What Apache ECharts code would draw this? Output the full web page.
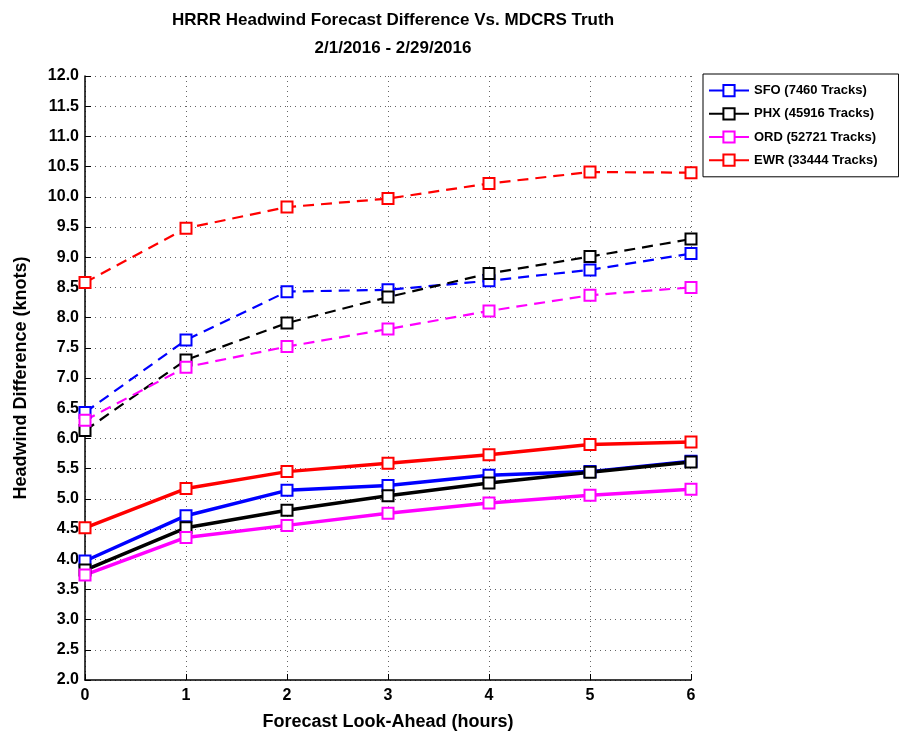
<!DOCTYPE html>
<html><head><meta charset="utf-8">
<script src="https://cdn.jsdelivr.net/npm/echarts@6/dist/echarts.min.js"></script>
<style>html,body{margin:0;padding:0;background:#fff;}#c{width:899px;height:740px;}</style>
</head><body><div id="c"></div>
<script>
const hours = [0, 1, 2, 3, 4, 5, 6];
const yTicks = [2.0, 12.0, 0.5];
const legendNames = ['SFO (7460 Tracks)', 'PHX (45916 Tracks)', 'ORD (52721 Tracks)', 'EWR (33444 Tracks)'];
const colors = ['#0000ff', '#000000', '#ff00ff', '#ff0000'];
// solid lines
const sfoSolid = [3.97, 4.72, 5.14, 5.22, 5.39, 5.45, 5.62];
const phxSolid = [3.82, 4.52, 4.81, 5.05, 5.26, 5.44, 5.61];
const ordSolid = [3.74, 4.36, 4.56, 4.76, 4.93, 5.06, 5.16];
const ewrSolid = [4.52, 5.17, 5.45, 5.59, 5.73, 5.90, 5.94];
// dashed lines
const sfoDash = [6.43, 7.63, 8.43, 8.46, 8.61, 8.79, 9.06];
const phxDash = [6.13, 7.30, 7.91, 8.34, 8.73, 9.01, 9.30];
const ordDash = [6.30, 7.18, 7.52, 7.81, 8.11, 8.37, 8.50];
const ewrDash = [8.58, 9.48, 9.83, 9.97, 10.22, 10.41, 10.40];

const solids = [sfoSolid, phxSolid, ordSolid, ewrSolid];
const dashes = [sfoDash, phxDash, ordDash, ewrDash];

const series = [];
dashes.forEach((d, i) => {
  series.push({
    name: legendNames[i] + ' dashed', type: 'line',
    data: hours.map((h, k) => [h, d[k]]),
    symbol: 'rect', symbolSize: 11, showSymbol: true,
    itemStyle: {color: '#fff', borderColor: colors[i], borderWidth: 2},
    lineStyle: {color: colors[i], width: 2.2, type: [11, 7]},
    z: 2, animation: false
  });
});
solids.forEach((d, i) => {
  series.push({
    name: legendNames[i], type: 'line',
    data: hours.map((h, k) => [h, d[k]]),
    symbol: 'rect', symbolSize: 11, showSymbol: true,
    itemStyle: {color: '#fff', borderColor: colors[i], borderWidth: 2},
    lineStyle: {color: colors[i], width: 3.5},
    z: 3, animation: false
  });
});

const font = 'Liberation Sans, Arial, sans-serif';
const chart = echarts.init(document.getElementById('c'), null, {renderer: 'canvas'});
chart.setOption({
  backgroundColor: '#fff',
  animation: false,
  title: {
    text: 'HRRR Headwind Forecast Difference Vs. MDCRS Truth',
    subtext: '2/1/2016 - 2/29/2016',
    left: 388, top: 7, textAlign: 'center',
    textStyle: {fontFamily: font, fontWeight: 'bold', fontSize: 17, color: '#000'},
    subtextStyle: {fontFamily: font, fontWeight: 'bold', fontSize: 17, color: '#000'},
    itemGap: 11
  },
  legend: {
    data: legendNames,
    orient: 'vertical', left: 703, top: 74,
    backgroundColor: '#fff', borderColor: '#000', borderWidth: 1,
    padding: [10, 21, 10, 5], itemGap: 10, itemWidth: 40, itemHeight: 14,
    textStyle: {fontFamily: font, fontWeight: 'bold', fontSize: 13, color: '#000'}
  },
  grid: {left: 85, right: 208, top: 76, bottom: 60, containLabel: false},
  xAxis: {
    type: 'value', min: hours[0], max: hours[hours.length - 1], interval: 1,
    name: 'Forecast Look-Ahead (hours)', nameLocation: 'middle', nameGap: 33,
    nameTextStyle: {fontFamily: font, fontWeight: 'bold', fontSize: 18, color: '#000'},
    axisLine: {lineStyle: {color: '#000', width: 1.5}},
    axisTick: {inside: true, length: 6, lineStyle: {color: '#000'}},
    axisLabel: {fontFamily: font, fontWeight: 'bold', fontSize: 16, color: '#000', margin: 8},
    splitLine: {show: true, lineStyle: {color: '#666', type: [1, 4], width: 1}}
  },
  yAxis: {
    type: 'value', min: yTicks[0], max: yTicks[1], interval: yTicks[2],
    name: 'Headwind Difference (knots)', nameLocation: 'middle', nameGap: 55,
    nameTextStyle: {fontFamily: font, fontWeight: 'bold', fontSize: 18, color: '#000'},
    axisLine: {show: true, lineStyle: {color: '#000', width: 1.5}},
    axisTick: {show: true, inside: true, length: 6, lineStyle: {color: '#000'}},
    axisLabel: {fontFamily: font, fontWeight: 'bold', fontSize: 16, color: '#000', margin: 6,
      formatter: v => v.toFixed(1)},
    splitLine: {show: true, lineStyle: {color: '#666', type: [1, 4], width: 1}}
  },
  series: series
});
</script></body></html>
